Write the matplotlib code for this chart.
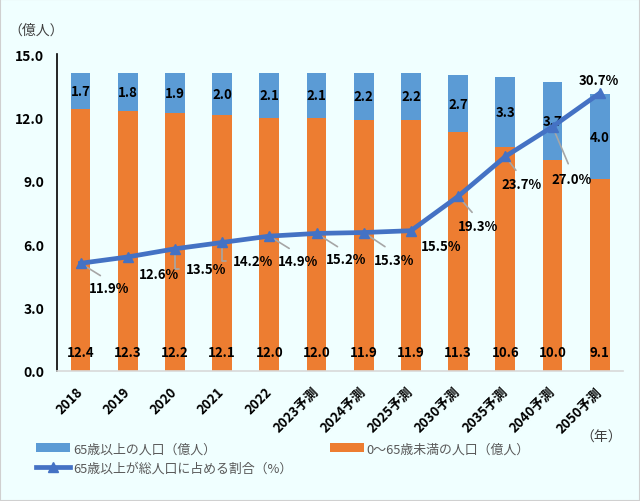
import matplotlib
matplotlib.use("Agg")
import matplotlib.pyplot as plt
from matplotlib.patches import Rectangle
import numpy as np

plt.rcParams['font.family'] = ['Noto Sans CJK JP', 'DejaVu Sans']

# ---- data ----
years = ["2018", "2019", "2020", "2021", "2022", "2023予測", "2024予測",
         "2025予測", "2030予測", "2035予測", "2040予測", "2050予測"]
under65 = [12.4, 12.3, 12.2, 12.1, 12.0, 12.0, 11.9, 11.9, 11.3, 10.6, 10.0, 9.1]
over65 = [1.7, 1.8, 1.9, 2.0, 2.1, 2.1, 2.2, 2.2, 2.7, 3.3, 3.7, 4.0]
ratio = [11.9, 12.6, 13.5, 14.2, 14.9, 15.2, 15.3, 15.5, 19.3, 23.7, 27.0, 30.7]
yticks = [0.0, 3.0, 6.0, 9.0, 12.0, 15.0]

# ---- label layout (pixel offsets, leader type) ----
label_offsets = [(29, -25), (31, -17), (31, -20), (31, -19), (29, -25), (30, -26),
                 (30, -27), (30, -15), (20, -30), (16, -28), (19, -52), (-1, 13)]
leader_types = ["diag", None, "L", "L", "diag", "diag", "diag", None,
                "diag", "diag", "diag", None]

BG = "#F0FFFF"
BLUE = "#5B9BD5"
ORANGE = "#ED7D31"
LINE = "#4472C4"
GRAY = "#A6A6A6"

fig = plt.figure(figsize=(6.4, 5.02), dpi=100, facecolor=BG)
fig.patches.append(Rectangle((0, 0), 1, 1, transform=fig.transFigure,
                             facecolor="none", edgecolor="#D0D0D0", lw=1.5))
ax = fig.add_axes([0.089, 0.259, 0.885, 0.631])
ax.set_facecolor("none")

x = np.arange(len(years))
w = 0.42
b1 = ax.bar(x, under65, w, color=ORANGE, label="0～65歳未満の人口（億人）", zorder=2)
b2 = ax.bar(x, over65, w, bottom=under65, color=BLUE, label="65歳以上の人口（億人）", zorder=2)

ax.set_xlim(-0.5, len(years) - 0.5)
ax.set_ylim(0, 15)
ax.set_yticks(yticks)
ax.set_yticklabels([f"{v:.1f}" for v in yticks], fontsize=10, fontweight="bold", color="black")
ax.tick_params(axis="y", length=0, pad=9)
ax.set_xticks(x)
ax.set_xticklabels(years, rotation=45, ha="right", va="center", rotation_mode="anchor",
                   fontsize=9.5, fontweight="bold", color="black")
ax.tick_params(axis="x", length=0, pad=13)
for s in ["top", "right"]:
    ax.spines[s].set_visible(False)
ax.spines["left"].set_color("black")
ax.spines["left"].set_linewidth(1.2)
ax.spines["bottom"].set_color("#D9D9D9")
ax.spines["bottom"].set_linewidth(1.2)

# bar labels
for i in range(len(years)):
    ax.annotate(f"{under65[i]:.1f}", (x[i], 0), xytext=(0, 19), textcoords="offset pixels",
                ha="center", va="center", fontsize=9.5, fontweight="bold", color="black", zorder=5)
    ax.text(x[i], under65[i] + over65[i] / 2, f"{over65[i]:.1f}", ha="center", va="center",
            fontsize=9.5, fontweight="bold", color="black", zorder=5)

# ratio line on hidden secondary axis
ax2 = ax.twinx()
ax2.set_ylim(0, 35)
ax2.axis("off")
ln, = ax2.plot(x, ratio, color=LINE, lw=3.4, marker="^", markersize=7,
               label="65歳以上が総人口に占める割合（%）", zorder=4)

for i in range(len(years)):
    dx, dy = label_offsets[i]
    kind = leader_types[i]
    kw = dict(xy=(x[i], ratio[i]), xytext=(dx, dy), textcoords="offset pixels",
              ha="center", va="center", fontsize=9.5, fontweight="bold", color="black")
    if kind == "diag":
        kw["arrowprops"] = dict(arrowstyle="-", color=GRAY, lw=1.2, shrinkA=4, shrinkB=2,
                                relpos=(0.5, 1.0))
    elif kind == "L":
        kw["arrowprops"] = dict(arrowstyle="-", color=GRAY, lw=1.2, shrinkA=3, shrinkB=2,
                                relpos=(0.0, 0.5),
                                connectionstyle="angle,angleA=0,angleB=90,rad=0")
    ax2.annotate(f"{ratio[i]:.1f}%", **kw)

# texts
fig.text(36 / 640, 1 - 31 / 502, "（億人）", ha="center", va="center", fontsize=10, color="#404040")
fig.text(601 / 640, 1 - 438 / 502, "（年）", ha="center", va="center", fontsize=10, color="#404040")

# legend
leg = fig.legend([b2, ln, b1], [b2.get_label(), ln.get_label(), b1.get_label()],
                 ncol=2, loc="upper left", bbox_to_anchor=(30 / 640, 1 - 437 / 502),
                 frameon=False, fontsize=9.3, handlelength=2.6, handleheight=0.7,
                 handletextpad=0.25, columnspacing=2.9, labelspacing=0.5, borderpad=0)
for t in leg.get_texts():
    t.set_color("#595959")

fig.savefig("out.png", dpi=100, facecolor=BG)
